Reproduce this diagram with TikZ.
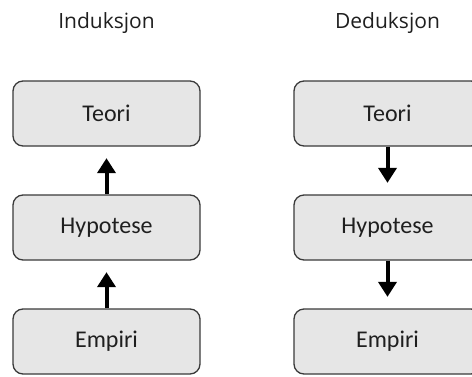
\documentclass[tikz,border=0pt]{standalone}
\usepackage{fontspec}
\setmainfont{Carlito}
\newfontfamily\headfont{Open Sans}
\usetikzlibrary{arrows.meta}
\definecolor{boxfill}{HTML}{E6E6E6}
\definecolor{boxline}{HTML}{3A3A3A}
\tikzset{
  stage/.style={draw=boxline, line width=1.3pt, fill=boxfill, rounded corners=10pt,
    minimum width=187pt, minimum height=65pt, inner sep=0pt,
    font=\fontsize{24}{28}\selectfont, text=black!88},
  heading/.style={anchor=base, font=\headfont\fontsize{21}{25}\selectfont, text=black!88},
  flow/.style={line width=4pt, -{Triangle[length=15pt,width=18pt]}, shorten >=11.5pt}
}
\begin{document}
\begin{tikzpicture}[x=1pt,y=-1pt]
  \useasboundingbox (0,0) rectangle (472,376);
  \clip (0,0) rectangle (472,376);
  % column headings
  \node[heading] (hl) at (106.5,28) {Induksjon};
  \node[heading] (hr) at (387.5,28) {Deduksjon};
  % induction column
  \node[stage] (t1) at (106.5,113.5) {Teori};
  \node[stage] (h1) at (106.5,227.5) {Hypotese};
  \node[stage] (e1) at (106.5,341.5) {Empiri};
  % deduction column
  \node[stage] (t2) at (387.5,113.5) {Teori};
  \node[stage] (h2) at (387.5,227.5) {Hypotese};
  \node[stage] (e2) at (387.5,341.5) {Empiri};
  % arrows
  \draw[flow] (e1.north) -- (h1.south);
  \draw[flow] (h1.north) -- (t1.south);
  \draw[flow] (t2.south) -- (h2.north);
  \draw[flow] (h2.south) -- (e2.north);
\end{tikzpicture}
\end{document}
